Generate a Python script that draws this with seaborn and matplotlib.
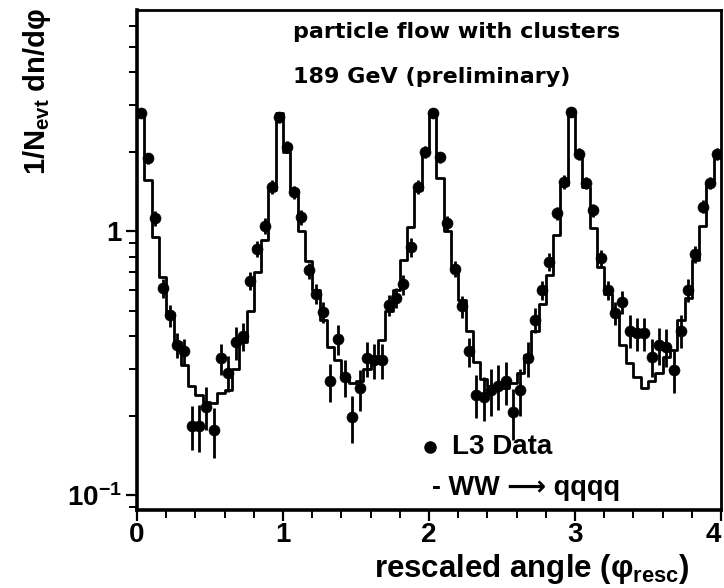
import numpy as np
import pandas as pd
import matplotlib
matplotlib.use("Agg")
import matplotlib.pyplot as plt
import seaborn as sns
from matplotlib.ticker import FixedLocator, FixedFormatter, LogLocator, MultipleLocator, NullFormatter

# ---------------- data ----------------
bin_width = 0.05
bin_range = (0.0, 4.0)
bin_centers = np.arange(80) * bin_width + bin_width / 2

l3_data = [
    2.80, 1.89, 1.12, 0.61, 0.48, 0.37, 0.35, 0.183, 0.182, 0.216,
    0.176, 0.33, 0.29, 0.38, 0.40, 0.65, 0.86, 1.05, 1.47, 2.70,
    2.09, 1.41, 1.13, 0.71, 0.58, 0.495, 0.27, 0.39, 0.28, 0.198,
    0.254, 0.33, 0.325, 0.325, 0.525, 0.56, 0.63, 0.87, 1.47, 2.00,
    2.80, 1.91, 1.07, 0.72, 0.52, 0.35, 0.24, 0.235, 0.25, 0.26,
    0.27, 0.207, 0.25, 0.33, 0.46, 0.60, 0.765, 1.17, 1.54, 2.83,
    1.97, 1.52, 1.20, 0.79, 0.60, 0.49, 0.54, 0.42, 0.41, 0.41,
    0.334, 0.37, 0.365, 0.298, 0.42, 0.60, 0.82, 1.24, 1.52, 1.97,
]

l3_err = [
    0.10, 0.09, 0.07, 0.05, 0.045, 0.04, 0.04, 0.035, 0.037, 0.04,
    0.038, 0.045, 0.045, 0.055, 0.05, 0.05, 0.06, 0.07, 0.09, 0.12,
    0.10, 0.08, 0.07, 0.05, 0.05, 0.045, 0.045, 0.05, 0.045, 0.04,
    0.045, 0.05, 0.05, 0.05, 0.05, 0.05, 0.055, 0.07, 0.09, 0.11,
    0.12, 0.09, 0.07, 0.05, 0.05, 0.045, 0.045, 0.045, 0.05, 0.05,
    0.05, 0.045, 0.05, 0.05, 0.05, 0.05, 0.06, 0.07, 0.09, 0.12,
    0.10, 0.08, 0.07, 0.06, 0.05, 0.05, 0.055, 0.06, 0.06, 0.06,
    0.055, 0.06, 0.06, 0.055, 0.06, 0.06, 0.06, 0.07, 0.08, 0.10,
]

mc_ww_qqqq = [
    2.80, 1.56, 0.95, 0.67, 0.49, 0.38, 0.31, 0.26, 0.24, 0.225,
    0.223, 0.243, 0.25, 0.30, 0.38, 0.50, 0.70, 0.93, 1.43, 2.80,
    2.00, 1.43, 1.00, 0.77, 0.60, 0.46, 0.365, 0.325, 0.28, 0.265,
    0.27, 0.30, 0.33, 0.387, 0.50, 0.60, 0.78, 1.04, 1.43, 2.03,
    2.80, 1.59, 1.00, 0.73, 0.55, 0.42, 0.32, 0.275, 0.26, 0.255,
    0.255, 0.265, 0.29, 0.34, 0.42, 0.53, 0.68, 0.97, 1.50, 2.83,
    2.00, 1.47, 1.03, 0.73, 0.58, 0.49, 0.37, 0.316, 0.28, 0.255,
    0.27, 0.29, 0.334, 0.354, 0.46, 0.56, 0.78, 1.05, 1.52, 2.00,
]

x_ticks = [0, 1, 2, 3, 4]
x_tick_labels = ["0", "1", "2", "3", "4"]
y_ticks = [0.1, 1.0]
y_tick_labels = ["$10^{-1}$", "1"]

title_lines = ["particle flow with clusters", "189 GeV (preliminary)"]
legend_labels = ["L3 Data", "- WW \u27f6 qqqq"]
x_label = "rescaled angle (\u03c6$_{\\mathrm{resc}}$)"
y_label = "1/N$_{\\mathrm{evt}}$ dn/d\u03c6"

df_data = pd.DataFrame({"phi": bin_centers, "val": l3_data, "err": l3_err})
df_mc = pd.DataFrame({"phi": bin_centers, "val": mc_ww_qqqq})

# ---------------- style ----------------
sns.set_style("white")
plt.rcParams["font.family"] = ["Liberation Sans", "DejaVu Sans"]
plt.rcParams["font.weight"] = "bold"
plt.rcParams["text.color"] = "black"
plt.rcParams["axes.labelcolor"] = "black"
plt.rcParams["xtick.color"] = "black"
plt.rcParams["ytick.color"] = "black"
plt.rcParams["mathtext.fontset"] = "custom"
plt.rcParams["mathtext.rm"] = "Liberation Sans:bold"
plt.rcParams["mathtext.it"] = "Liberation Sans:bold"
plt.rcParams["mathtext.bf"] = "Liberation Sans:bold"
plt.rcParams["mathtext.default"] = "rm"

fig = plt.figure(figsize=(7.24, 5.88), dpi=100)
ax = fig.add_axes([137 / 724, 1 - 510 / 588, 584 / 724, 500 / 588])

# MC histogram (step line)
sns.histplot(data=df_mc, x="phi", weights="val", binwidth=bin_width, binrange=bin_range,
             element="step", fill=False, color="black", linewidth=2.0, ax=ax)

# data error bars + points
ax.errorbar(df_data["phi"], df_data["val"], yerr=df_data["err"], fmt="none",
            ecolor="black", elinewidth=2.0, capsize=0, zorder=3)
sns.scatterplot(data=df_data, x="phi", y="val", color="black", s=62,
                edgecolor="black", linewidth=0.5, zorder=4, ax=ax, legend=False)

ax.set_yscale("log")
ax.set_xlim(0, 4)
ax.set_ylim(0.0877, 6.9)

# ticks
ax.xaxis.set_major_locator(FixedLocator(x_ticks))
ax.xaxis.set_major_formatter(FixedFormatter(x_tick_labels))
ax.xaxis.set_minor_locator(MultipleLocator(0.2))
ax.yaxis.set_major_locator(FixedLocator(y_ticks))
ax.yaxis.set_major_formatter(FixedFormatter(y_tick_labels))
ax.yaxis.set_minor_locator(LogLocator(base=10, subs=np.arange(2, 10)))
ax.yaxis.set_minor_formatter(NullFormatter())

ax.tick_params(axis="both", which="major", direction="out", length=8, width=1.6,
               labelsize=20, color="black", labelcolor="black", pad=3)
ax.tick_params(axis="x", which="major", pad=1)
ax.tick_params(axis="both", which="minor", direction="out", length=5.5, width=1.4,
               color="black")
ax.tick_params(left=True, bottom=True, which="both")
fig.canvas.draw()
for lab in ax.get_xticklabels() + ax.get_yticklabels():
    lab.set_fontweight("bold")
ax.get_xticklabels()[-1].set_horizontalalignment("right")

for side, sp in ax.spines.items():
    sp.set_visible(True)
    sp.set_color("black")
    sp.set_linewidth(2.6 if side in ("left", "bottom") else 2.0)

# labels
ax.set_xlabel(x_label, fontsize=22.5, fontweight="bold", color="black")
ax.xaxis.set_label_coords(0.676, -0.153)
ax.xaxis.label.set_va("bottom")
ax.set_ylabel(y_label, fontsize=21, fontweight="bold", color="black")
ax.yaxis.set_label_coords(-0.171, 0.837)
ax.yaxis.label.set_va("center")

# in-plot annotations
ax.text(0.267, 0.956, title_lines[0], transform=ax.transAxes, fontsize=16,
        fontweight="bold", family="DejaVu Sans", ha="left", va="center", color="black")
ax.text(0.267, 0.866, title_lines[1], transform=ax.transAxes, fontsize=16,
        fontweight="bold", family="DejaVu Sans", ha="left", va="center", color="black")

# legend (drawn by hand like the original)
ax.plot([0.502], [0.126], "o", color="black", markersize=8, transform=ax.transAxes,
        clip_on=False)
ax.text(0.539, 0.126, legend_labels[0], transform=ax.transAxes, fontsize=20,
        fontweight="bold", ha="left", va="center", color="black")
ax.text(0.505, 0.044, legend_labels[1], transform=ax.transAxes, fontsize=19.5,
        fontweight="bold", ha="left", va="center", color="black",
        family=["Liberation Sans", "DejaVu Sans"])

fig.savefig("out.png", dpi=100)
